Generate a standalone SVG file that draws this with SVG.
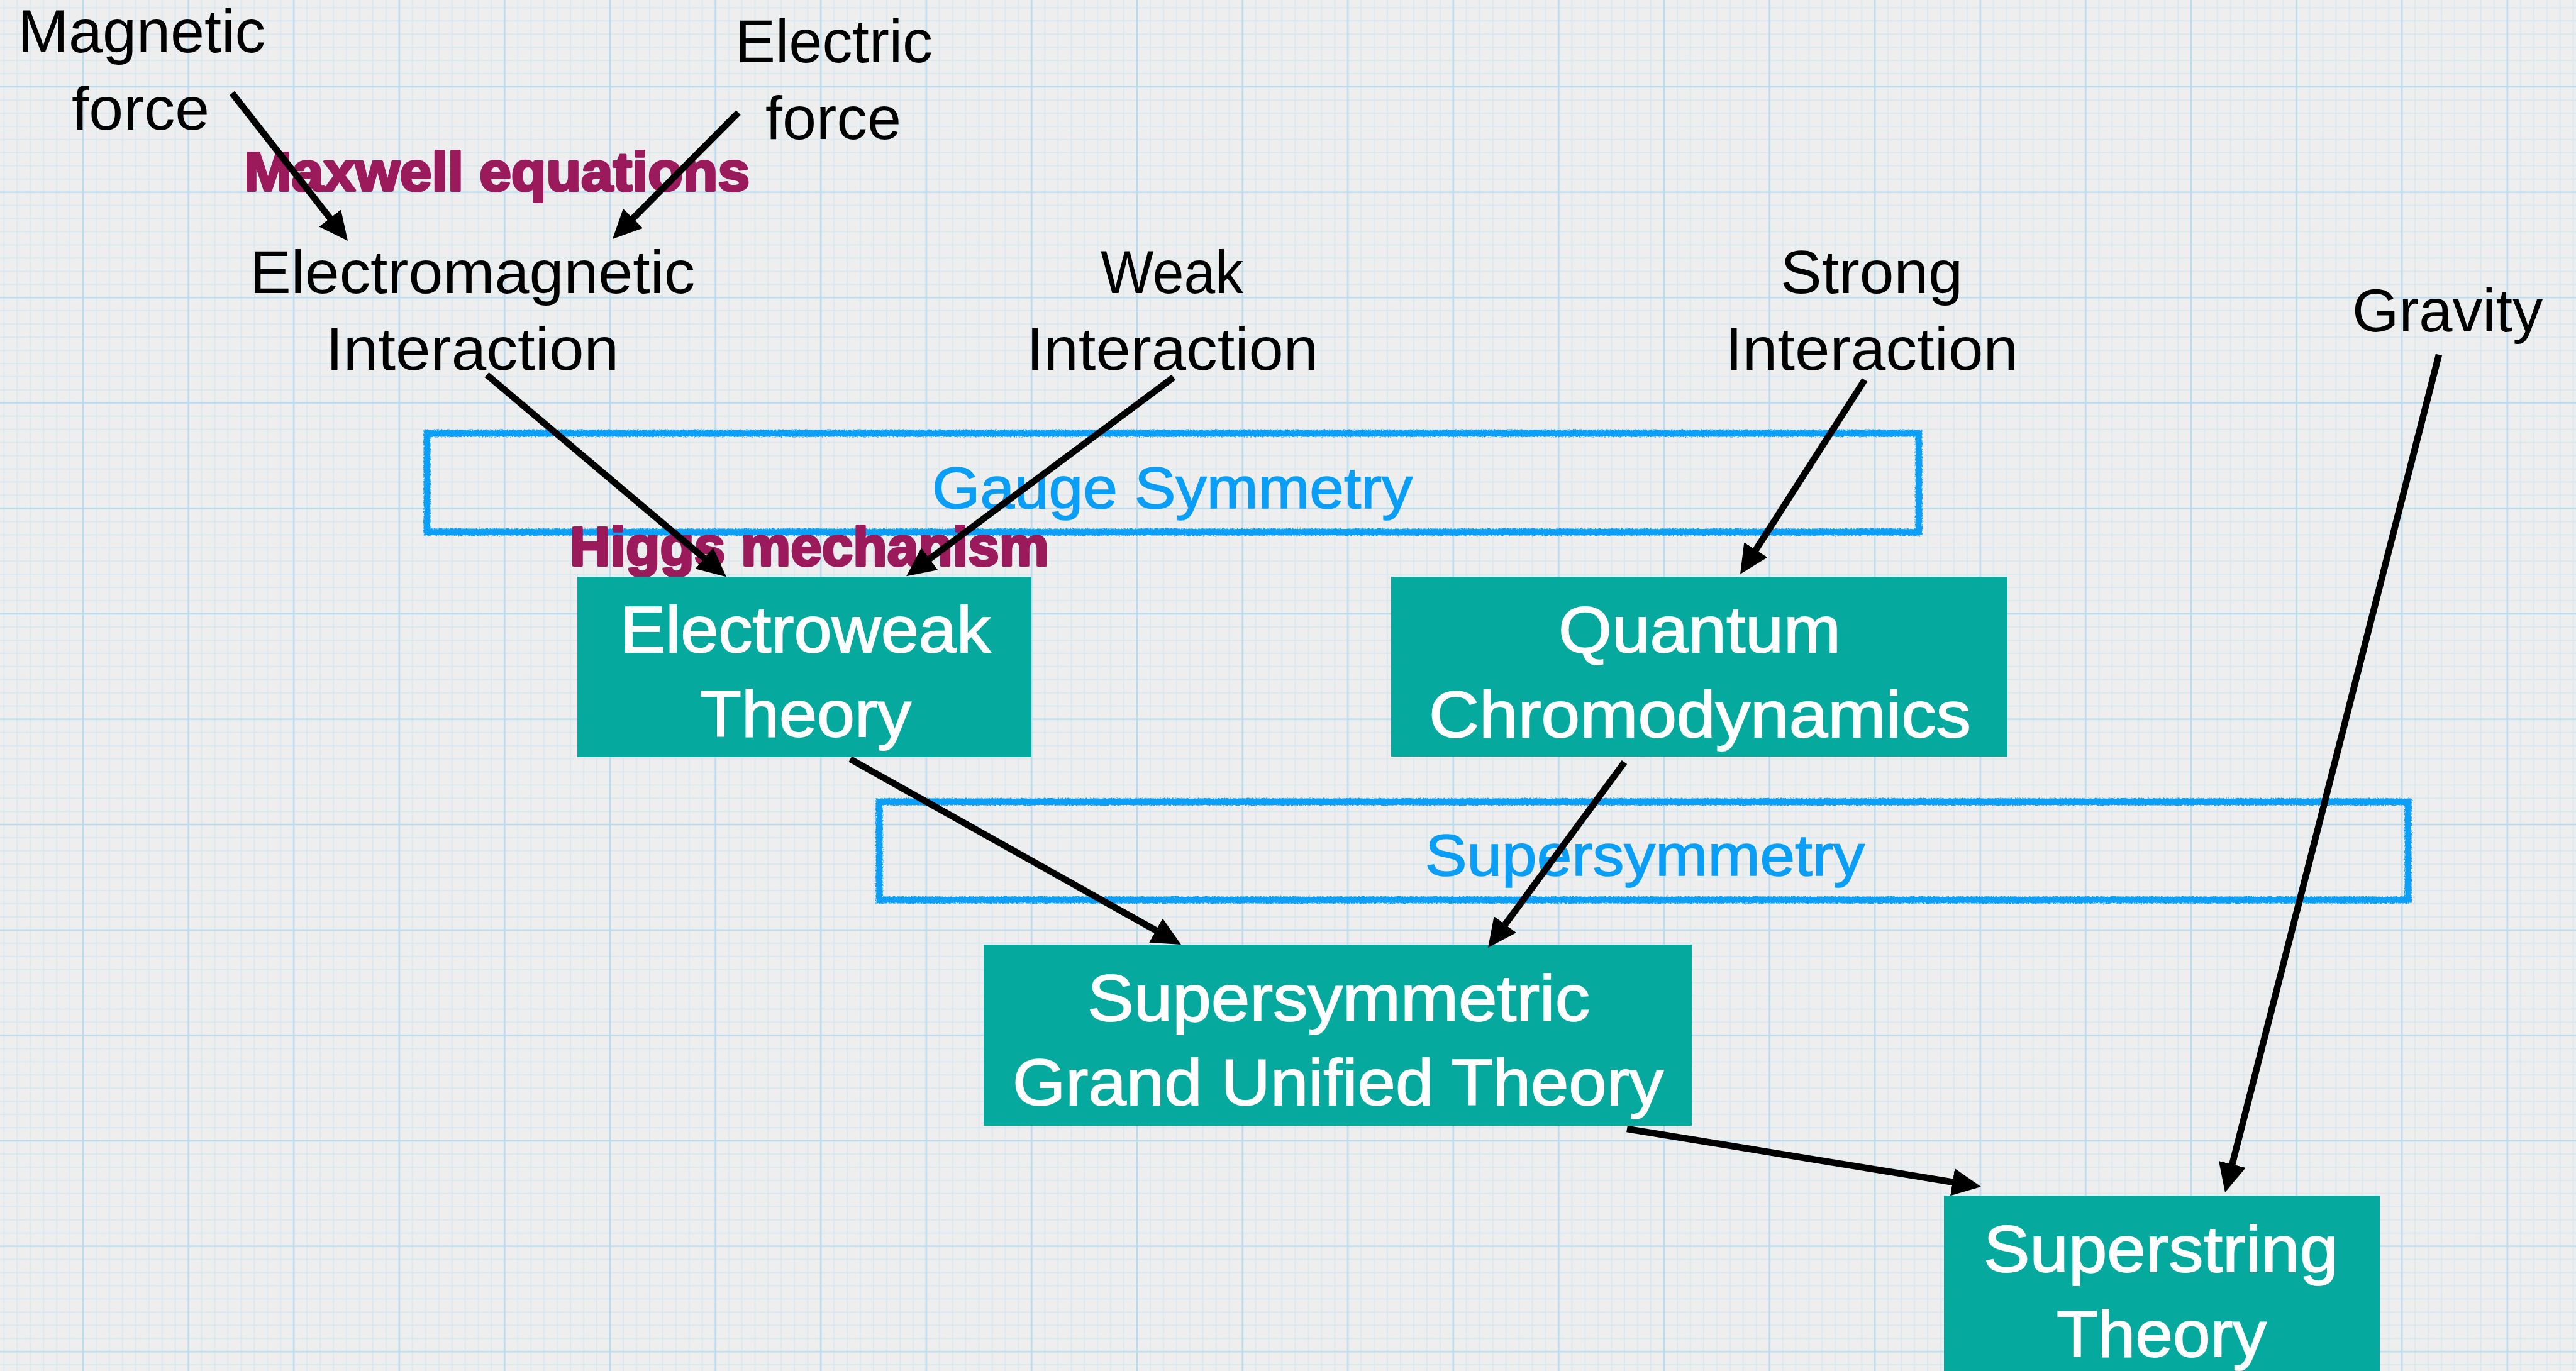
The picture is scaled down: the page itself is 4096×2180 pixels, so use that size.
<svg xmlns="http://www.w3.org/2000/svg" width="4096" height="2180" viewBox="0 0 4096 2180">
<style>
.lbl{font-family:"Liberation Sans",Arial,sans-serif;font-size:96px;fill:#000}
.mag{font-family:"Liberation Sans",Arial,sans-serif;font-size:88px;font-weight:bold;fill:#9b1a5b;stroke:#9b1a5b;stroke-width:4;stroke-linejoin:round}
.blu{font-family:"Liberation Sans",Arial,sans-serif;font-size:92px;fill:#0a9ef6;stroke:#0a9ef6;stroke-width:1.6}
.wht{font-family:"Liberation Sans",Arial,sans-serif;font-size:104px;fill:#fff;stroke:#fff;stroke-width:1.8}
.box{fill:#06a99d}
.sketch{fill:none;stroke:#0a9ef6;stroke-width:11;filter:url(#rough)}
.arr{fill:none;stroke:#000;stroke-width:10.5;marker-end:url(#ah)}
</style>
<defs>
<pattern id="grid" x="132" y="138" width="167.6" height="167.6" patternUnits="userSpaceOnUse">
<g stroke="#d3e7f1" stroke-width="1.3">
<path d="M20.95,0V167.6M41.9,0V167.6M62.85,0V167.6M83.8,0V167.6M104.75,0V167.6M125.7,0V167.6M146.65,0V167.6"/>
<path d="M0,20.95H167.6M0,41.9H167.6M0,62.85H167.6M0,83.8H167.6M0,104.75H167.6M0,125.7H167.6M0,146.65H167.6"/>
</g>
<g stroke="#badbed" stroke-width="2.6">
<path d="M0,0V167.6M167.6,0V167.6M0,0H167.6M0,167.6H167.6"/>
</g>
</pattern>
<filter id="rough" x="-5%" y="-20%" width="110%" height="140%">
<feTurbulence type="fractalNoise" baseFrequency="0.45" numOctaves="2" seed="3" result="n"/>
<feDisplacementMap in="SourceGraphic" in2="n" scale="5" xChannelSelector="R" yChannelSelector="G"/>
</filter>
<filter id="noise" x="0" y="0" width="100%" height="100%">
<feTurbulence type="fractalNoise" baseFrequency="0.9" numOctaves="2" seed="7"/>
<feColorMatrix type="matrix" values="0 0 0 0 0.5  0 0 0 0 0.5  0 0 0 0 0.5  0 0 0 0.04 0"/>
</filter>
<marker id="ah" markerUnits="userSpaceOnUse" markerWidth="46" markerHeight="44" viewBox="0 0 46 44" refX="26" refY="22" orient="auto">
<path d="M0,0 L46,22 L0,44 Z" fill="#000"/>
</marker>
</defs>

<rect width="4096" height="2180" fill="#efefef"/>
<rect width="4096" height="2180" filter="url(#noise)"/>
<rect width="4096" height="2180" fill="url(#grid)"/>

<g id="gauge-symmetry">
<rect class="sketch" x="679" y="689" width="2372" height="157"/>
<text class="blu" x="1482" y="808" textLength="764" lengthAdjust="spacingAndGlyphs">Gauge Symmetry</text>
</g>
<g id="supersymmetry">
<rect class="sketch" x="1398" y="1275" width="2431" height="156"/>
<text class="blu" x="2266" y="1392" textLength="699" lengthAdjust="spacingAndGlyphs">Supersymmetry</text>
</g>

<g id="magnetic-force"><text class="lbl" x="28" y="83" textLength="394" lengthAdjust="spacingAndGlyphs">Magnetic</text><text class="lbl" x="114" y="206" textLength="219" lengthAdjust="spacingAndGlyphs">force</text></g>
<g id="electric-force"><text class="lbl" x="1169" y="99" textLength="314" lengthAdjust="spacingAndGlyphs">Electric</text><text class="lbl" x="1217" y="221" textLength="216" lengthAdjust="spacingAndGlyphs">force</text></g>
<g id="electromagnetic-interaction"><text class="lbl" x="397" y="466" textLength="708" lengthAdjust="spacingAndGlyphs">Electromagnetic</text><text class="lbl" x="518" y="588" textLength="466" lengthAdjust="spacingAndGlyphs">Interaction</text></g>
<g id="weak-interaction"><text class="lbl" x="1750" y="466" textLength="227" lengthAdjust="spacingAndGlyphs">Weak</text><text class="lbl" x="1632" y="588" textLength="464" lengthAdjust="spacingAndGlyphs">Interaction</text></g>
<g id="strong-interaction"><text class="lbl" x="2831" y="466" textLength="290" lengthAdjust="spacingAndGlyphs">Strong</text><text class="lbl" x="2743" y="588" textLength="466" lengthAdjust="spacingAndGlyphs">Interaction</text></g>
<g id="gravity"><text class="lbl" x="3740" y="527" textLength="303" lengthAdjust="spacingAndGlyphs">Gravity</text></g>

<g id="connector-labels">
<text class="mag" x="388" y="303" textLength="804" lengthAdjust="spacingAndGlyphs">Maxwell equations</text>
<text class="mag" x="906" y="899" textLength="762" lengthAdjust="spacingAndGlyphs">Higgs mechanism</text>
</g>

<g id="electroweak-theory">
<rect class="box" x="918" y="917" width="722" height="287"/>
<text class="wht" x="986" y="1037" textLength="589" lengthAdjust="spacingAndGlyphs">Electroweak</text>
<text class="wht" x="1113" y="1171" textLength="336" lengthAdjust="spacingAndGlyphs">Theory</text>
</g>
<g id="quantum-chromodynamics">
<rect class="box" x="2212" y="917" width="980" height="286"/>
<text class="wht" x="2478" y="1037" textLength="449" lengthAdjust="spacingAndGlyphs">Quantum</text>
<text class="wht" x="2272" y="1172" textLength="862" lengthAdjust="spacingAndGlyphs">Chromodynamics</text>
</g>
<g id="supersymmetric-gut">
<rect class="box" x="1564" y="1502" width="1126" height="288"/>
<text class="wht" x="1729" y="1623" textLength="799" lengthAdjust="spacingAndGlyphs">Supersymmetric</text>
<text class="wht" x="1610" y="1757" textLength="1035" lengthAdjust="spacingAndGlyphs">Grand Unified Theory</text>
</g>
<g id="superstring-theory">
<rect class="box" x="3091" y="1901" width="693" height="300"/>
<text class="wht" x="3154" y="2022" textLength="564" lengthAdjust="spacingAndGlyphs">Superstring</text>
<text class="wht" x="3270" y="2157" textLength="334" lengthAdjust="spacingAndGlyphs">Theory</text>
</g>

<g id="connectors">
<path class="arr" d="M369,148 L540.7,367.3"/>
<path class="arr" d="M1174,179 L988.1,365.8"/>
<path class="arr" d="M774,596 L1139.6,904.3"/>
<path class="arr" d="M1866,600 L1457.2,904.2"/>
<path class="arr" d="M2965,604 L2777.8,896.2"/>
<path class="arr" d="M1352,1207 L1860.6,1492.2"/>
<path class="arr" d="M2583,1212 L2377.9,1490.9"/>
<path class="arr" d="M2587,1795 L3130.3,1883.8"/>
<path class="arr" d="M3878,564 L3542.9,1876.6"/>
</g>
</svg>
